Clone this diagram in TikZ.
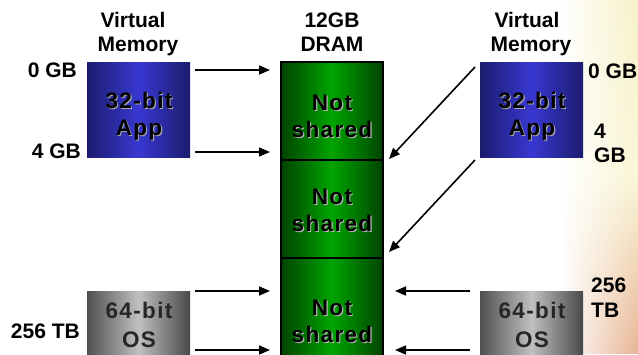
\documentclass[tikz,border=0pt]{standalone}
\usepackage{fontspec}
\setmainfont{Liberation Sans}
\newfontfamily\bxf{Liberation Sans}[LetterSpace=6]
\usetikzlibrary{arrows.meta,fadings}
\definecolor{bgtop}{HTML}{F7F2C8}
\definecolor{bgmid}{HTML}{FAF6D6}
\definecolor{bgbot}{HTML}{E8B496}
\definecolor{bluedk}{HTML}{1C1C6E}
\definecolor{bluelt}{HTML}{3838D2}
\definecolor{grndk}{HTML}{004400}
\definecolor{grnlt}{HTML}{00A400}
\definecolor{graydk}{HTML}{505050}
\definecolor{graylt}{HTML}{C0C0C0}
\tikzfading[name=fadeleft, left color=transparent!100, right color=transparent!0]
\tikzset{
  lbl/.style={inner sep=0pt, font=\bfseries\fontsize{21}{24}\selectfont},
  bt/.style={inner sep=0pt, anchor=base, font=\bxf\bfseries\fontsize{22.5}{22}\selectfont},
  bluebox/.style={draw=none, minimum width=103pt, minimum height=95pt, inner sep=0pt,
    left color=bluedk, right color=bluedk, middle color=bluelt},
  graybox/.style={draw=none, minimum width=103pt, minimum height=70pt, inner sep=0pt,
    left color=graydk, right color=graydk!90!black, middle color=graylt},
  grnbox/.style={draw=black, line width=1.2pt, minimum width=102pt, minimum height=98pt, inner sep=0pt,
    left color=grndk, right color=grndk, middle color=grnlt},
  arr/.style={line width=1.6pt, -{Triangle[length=11pt,width=9pt]}}
}
\newcommand\embtext[5]{%
  \node[bt, text=#5] (#1s) at ([shift={(1.1,1.1)}]#2,#3) {#4};
  \node[bt] (#1) at (#2,#3) {#4};}
\begin{document}
\begin{tikzpicture}[x=1pt,y=-1pt]
\useasboundingbox (0,0) rectangle (638,354);
\clip (0,0) rectangle (638,354);
\fill[white] (0,0) rectangle (638,354);
\shade[top color=bgtop, bottom color=bgbot, middle color=bgmid, path fading=fadeleft] (560,0) rectangle (638,354);

% headings
\node[lbl, anchor=base] (vm1a) at (133,27) {Virtual};
\node[lbl, anchor=base] (vm1b) at (138,51) {Memory};
\node[lbl, anchor=base] (drama) at (332,27) {12GB};
\node[lbl, anchor=base] (dramb) at (332,51) {DRAM};
\node[lbl, anchor=base] (vm2a) at (527,27) {Virtual};
\node[lbl, anchor=base] (vm2b) at (531,51) {Memory};

% boxes
\node[bluebox] (app1) at (138.5,109.5) {};
\node[bluebox] (app2) at (531.5,109.5) {};
\node[graybox] (os1) at (138.5,326) {};
\node[graybox] (os2) at (531.5,326) {};
\node[grnbox] (g1) at (332,111) {};
\node[grnbox] (g2) at (332,209) {};
\node[grnbox] (g3) at (332,307) {};

% box texts
\embtext{a1t1}{139}{108}{32-bit}{gray!70}
\embtext{a1t2}{139}{135}{App}{gray!70}
\embtext{a2t1}{532}{108}{32-bit}{gray!70}
\embtext{a2t2}{532}{135}{App}{gray!70}
\embtext{g1t1}{332}{110}{Not}{gray!55}
\embtext{g1t2}{332}{137}{shared}{gray!55}
\embtext{g2t1}{332}{204}{Not}{gray!55}
\embtext{g2t2}{332}{231}{shared}{gray!55}
\embtext{g3t1}{332}{315}{Not}{gray!55}
\embtext{g3t2}{332}{342}{shared}{gray!55}
\node[bt, text=black!85] (o1t1) at (139,318) {64-bit};
\node[bt, text=black!85] (o1t2) at (139,347) {OS};
\node[bt, text=black!85] (o2t1) at (532,318) {64-bit};
\node[bt, text=black!85] (o2t2) at (532,347) {OS};

% address labels
\node[lbl, anchor=base east] (l0) at (77,77) {0 GB};
\node[lbl, anchor=base east] (l4) at (81,158) {4 GB};
\node[lbl, anchor=base east] (l256) at (80,338) {256 TB};
\node[lbl, anchor=base west] (r0) at (588,78) {0 GB};
\node[lbl, anchor=base west] (r4) at (594,138) {4};
\node[lbl, anchor=base west] (r4b) at (594,162) {GB};
\node[lbl, anchor=base west] (r256) at (591,292) {256};
\node[lbl, anchor=base west] (r256b) at (591,317) {TB};

% arrow end points
\coordinate (la1s) at (195,70);  \coordinate (la1e) at (270,70);
\coordinate (la2s) at (195,152); \coordinate (la2e) at (270,152);
\coordinate (la3s) at (195,291); \coordinate (la3e) at (270,291);
\coordinate (la4s) at (195,350); \coordinate (la4e) at (270,350);
\coordinate (ra1s) at (475,67);  \coordinate (ra1e) at (389,159);
\coordinate (ra2s) at (475,160); \coordinate (ra2e) at (389,252);
\coordinate (ra3s) at (470,291); \coordinate (ra3e) at (395,291);
\coordinate (ra4s) at (470,350); \coordinate (ra4e) at (395,350);

\draw[arr] (la1s) -- (la1e);
\draw[arr] (la2s) -- (la2e);
\draw[arr] (la3s) -- (la3e);
\draw[arr] (la4s) -- (la4e);
\draw[arr] (ra1s) -- (ra1e);
\draw[arr] (ra2s) -- (ra2e);
\draw[arr] (ra3s) -- (ra3e);
\draw[arr] (ra4s) -- (ra4e);
\end{tikzpicture}
\end{document}
